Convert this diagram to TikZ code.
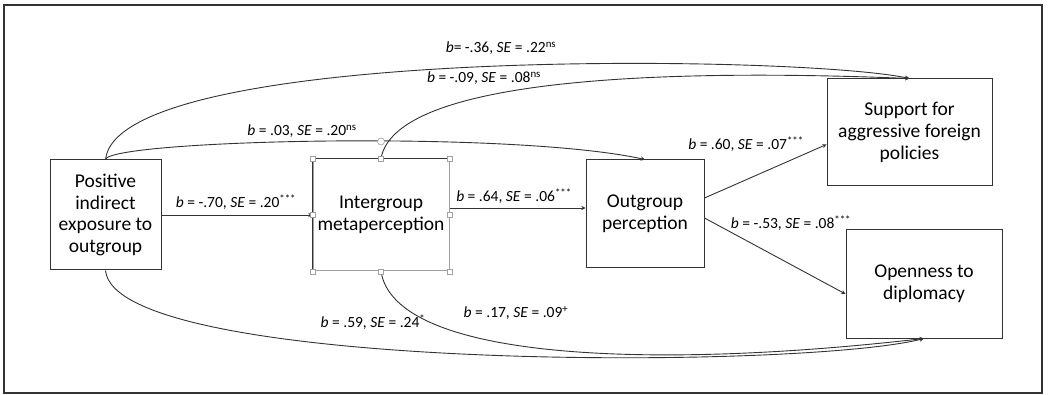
\documentclass[tikz,border=0pt]{standalone}
\usepackage{fontspec}
\setmainfont{Carlito}
\usetikzlibrary{arrows, positioning}
\definecolor{linegray}{HTML}{333333}
\definecolor{handlegray}{HTML}{A0A0A0}
\newcommand{\coef}[3]{\textit{b} = #1, \textit{SE} = #2\textsuperscript{#3}}

\begin{document}
\begin{tikzpicture}[x=1pt, y=-1pt]
% Define styles
\tikzstyle{var} = [rectangle, draw=linegray, line width=1pt, align=center, inner sep=0pt, font=\fontsize{19.5}{21.7}\selectfont]
\tikzstyle{coef} = [inner sep=1pt, font=\fontsize{15.5}{18}\selectfont]
\tikzstyle{arrow} = [line width=0.9pt, draw=linegray, ->, >=stealth]
\tikzstyle{handle} = [rectangle, draw=handlegray, fill=white, minimum size=5pt, inner sep=0pt, line width=0.6pt]

\useasboundingbox (0,0) rectangle (1049,395);
\draw[line width=1.6pt, draw=linegray] (4,5) rectangle (1042,393);

% Nodes
\node (pos) [var, minimum width=111pt, minimum height=110pt] at (105.5,215) {Positive\\indirect\\exposure to\\outgroup};
\node (meta) [var, draw=handlegray, minimum width=136pt, minimum height=112pt] at (381,215) {Intergroup\\metaperception};
\node (outg) [var, minimum width=118pt, minimum height=108pt] at (645,214) {Outgroup\\perception};
\node (supp) [var, minimum width=165pt, minimum height=107pt] at (909.5,132.5) {Support for\\aggressive foreign\\policies};
\node (open) [var, minimum width=156pt, minimum height=108pt] at (924,284) {Openness to\\diplomacy};

% Arrows
\draw[arrow] (pos.east) -- (meta.west);
\draw[arrow] ([yshift=7pt]meta.east) -- ([yshift=6pt]outg.west);
\draw[arrow] ([yshift=16pt]outg.east) -- ([yshift=-12pt]supp.west);
\draw[arrow] ([yshift=-4pt]outg.east) -- ([yshift=-10pt]open.west);
\draw[arrow] (pos.north) .. controls (118,45) and (800,55) .. (supp.north);
\draw[arrow] (meta.north) .. controls (395,80) and (650,68) .. (supp.north);
\draw[arrow] (pos.north) .. controls (110,140) and (510,130) .. (outg.north);
\draw[arrow] (pos.south) .. controls (115,372) and (800,370) .. (open.south);
\draw[arrow] (meta.south) .. controls (395,360) and (650,370) .. (open.south);

% Selection handles
\draw[linegray, line width=1.2pt] (meta.south west) -- (meta.north west) -- (meta.north east);
\foreach \a [count=\i] in {north west, north, north east, west, east, south west, south, south east}
  \node (h\i) [handle] at (meta.\a) {};
\node (rot) [handle, circle, minimum size=7pt] at ([yshift=17pt]meta.north) {};

% Labels
\node (c1) [coef] at (236,202) {\coef{-.70}{.20}{***}};
\node (c2) [coef] at (514,196) {\coef{.64}{.06}{***}};
\node (c3) [coef] at (746,144) {\coef{.60}{.07}{***}};
\node (c4) [coef] at (791,223) {\coef{-.53}{.08}{***}};
\node (c5) [coef] at (501,48) {\textit{b}= -.36, \textit{SE} = .22\textsuperscript{ns}};
\node (c6) [coef] at (484,78) {\coef{-.09}{.08}{ns}};
\node (c7) [coef] at (302,131) {\coef{.03}{.20}{ns}};
\node (c8) [coef] at (373,322) {\coef{.59}{.24}{*}};
\node (c9) [coef] at (516,313) {\coef{.17}{.09}{+}};
\end{tikzpicture}
\end{document}
